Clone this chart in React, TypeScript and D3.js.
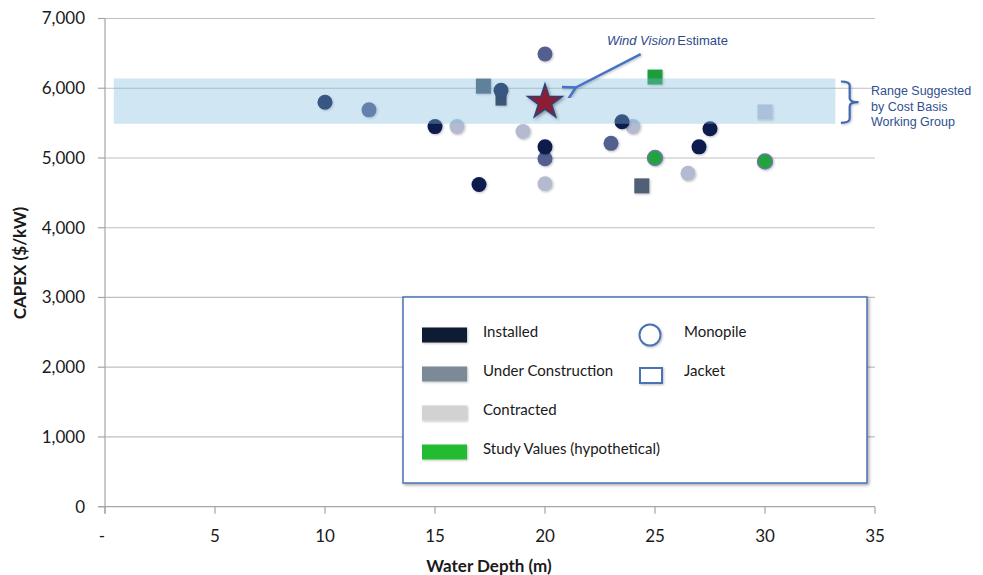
import React from "react";
import * as d3 from "d3";

// ---------- data ----------
const xTicks = [0, 5, 10, 15, 20, 25, 30, 35];
const yTicks = [0, 1000, 2000, 3000, 4000, 5000, 6000, 7000];

// [water depth (m), CAPEX ($/kW)]
const installedMonopile = [[10, 5800], [15, 5450], [17, 4620], [18, 5970], [20, 5160], [23.5, 5520], [27, 5160], [27.5, 5420]];
const constructionMonopile = [[12, 5690], [20, 6490], [20, 4990], [23, 5210]];
const contractedMonopile = [[16, 5450], [19, 5380], [20, 4630], [24, 5450], [26.5, 4780]];
const studyMonopile = [[25, 5000], [30, 4950]];
const installedJacket = [[18, 5830]];
const constructionJacket = [[17.2, 6030], [24.4, 4600]];
const contractedJacket = [[30, 5660]];
const studyJacket = [[25, 6160]];
const windVisionEstimate = [[20, 5800]];

const rangeDepth = [0.4, 33.2];
const rangeCapex = [5490, 6140];

const statusLabels = ["Installed", "Under Construction", "Contracted", "Study Values (hypothetical)"];
const foundationLabels = ["Monopile", "Jacket"];
const rangeLabel = ["Range Suggested", "by Cost Basis", "Working Group"];

// ---------- styles ----------
const W = 983, H = 575;
const x = d3.scaleLinear().domain([0, 35]).range([105, 875]);
const y = d3.scaleLinear().domain([0, 7000]).range([506.7, 18.5]);

const FONT = "Lato, 'Open Sans', sans-serif";
const ANNO_FONT = "'Liberation Sans', Arial, sans-serif";
const swatchColors = ["#0f1b33", "#7b8a98", "#d2d2d2", "#22bb33"];

const circleSeries = [
  { data: constructionMonopile, fill: "#52618f", stroke: "none" },
  { data: contractedMonopile, fill: "#b4bbd0", stroke: "none" },
  { data: installedMonopile, fill: "#0c1a4d", stroke: "none" },
  { data: studyMonopile, fill: "#22a33a", stroke: "#6a7aa6" },
];
const squareSeries = [
  { data: installedJacket, fill: "#131b37", size: 11 },
  { data: constructionJacket, fill: "#4f5e76", size: 15 },
  { data: contractedJacket, fill: "#c2c5d8", size: 15 },
  { data: studyJacket, fill: "#1e9e3e", size: 15 },
];

const fmtY = d3.format(",");
const fmtX = (d: number) => (d === 0 ? "-" : String(d));

function bracketPath(x0: number, x1: number, y0: number, y1: number) {
  const ym = (y0 + y1) / 2;
  const xm = (x0 + x1) / 2;
  const r = 4;
  return [
    `M${x0},${y0}`,
    `Q${xm},${y0} ${xm},${y0 + r}`,
    `L${xm},${ym - r}`,
    `Q${xm},${ym} ${x1},${ym}`,
    `Q${xm},${ym} ${xm},${ym + r}`,
    `L${xm},${y1 - r}`,
    `Q${xm},${y1} ${x0},${y1}`,
  ].join(" ");
}

export default function App() {
  const star = d3.symbol(d3.symbolStar, 370)();
  const legendX = 403, legendY = 297, legendW = 464, legendH = 186;
  const rowY = [335, 374, 413, 452];

  return (
    <svg
      width={W}
      height={H}
      viewBox={`0 0 ${W} ${H}`}
      style={{ position: "absolute", left: 0, top: 0, background: "#fff" }}
    >
      <defs>
        <filter id="shadow" x="-20%" y="-20%" width="150%" height="150%">
          <feDropShadow dx="1.5" dy="1.5" stdDeviation="1.5" floodColor="#000" floodOpacity="0.35" />
        </filter>
        <filter id="softshadow" x="-20%" y="-20%" width="150%" height="150%">
          <feDropShadow dx="1" dy="1" stdDeviation="1" floodColor="#000" floodOpacity="0.25" />
        </filter>
        <marker id="arrowhead" viewBox="0 0 10 10" refX="1.5" refY="5" markerWidth="7" markerHeight="7" orient="auto-start-reverse">
          <path d="M9,0.8 L1.5,5 L9,9.2" fill="none" stroke="#4472c4" strokeWidth="1.5" strokeLinecap="round" strokeLinejoin="round" />
        </marker>
      </defs>

      {/* gridlines */}
      {yTicks.filter((t) => t > 0).map((t) => (
        <line key={t} x1={x(0)} x2={x(35)} y1={y(t)} y2={y(t)} stroke="#bfbfbf" strokeWidth={1.2} />
      ))}

      {/* y axis */}
      <line x1={x(0)} x2={x(0)} y1={y(7000)} y2={y(0) + 7} stroke="#a6a6a6" strokeWidth={1.2} />
      {yTicks.map((t) => (
        <g key={t}>
          <line x1={x(0) - 7} x2={x(0)} y1={y(t)} y2={y(t)} stroke="#a6a6a6" strokeWidth={1.2} />
          <text x={85} y={y(t)} dy="0.35em" textAnchor="end" fontFamily={FONT} fontSize={17} fill="#1a1a1a">
            {fmtY(t)}
          </text>
        </g>
      ))}

      {/* x axis */}
      <line x1={x(0) - 7} x2={x(35)} y1={y(0)} y2={y(0)} stroke="#a6a6a6" strokeWidth={1.2} />
      {xTicks.map((t) => (
        <g key={t}>
          <line x1={x(t)} x2={x(t)} y1={y(0)} y2={y(0) + 7} stroke="#a6a6a6" strokeWidth={1.2} />
          <text x={t === 0 ? x(t) - 3 : x(t)} y={536} dy="0.35em" textAnchor="middle" fontFamily={FONT} fontSize={17} fill="#1a1a1a">
            {fmtX(t)}
          </text>
        </g>
      ))}

      {/* axis titles */}
      <text x={489} y={566} dy="0.35em" textAnchor="middle" fontFamily={FONT} fontWeight="bold" fontSize={17} fill="#1a1a1a">
        Water Depth (m)
      </text>
      <text
        transform={`translate(20,263) rotate(-90)`}
        dy="0.35em"
        textAnchor="middle"
        fontFamily={FONT}
        fontWeight="bold"
        fontSize={17}
        fill="#1a1a1a"
      >
        CAPEX ($/kW)
      </text>

      {/* jacket squares */}
      {squareSeries.map((s, i) =>
        s.data.map(([d, v], j) => (
          <rect
            key={`sq${i}-${j}`}
            x={x(d) - s.size / 2}
            y={y(v) - s.size / 2}
            width={s.size}
            height={s.size}
            fill={s.fill}
            filter="url(#softshadow)"
          />
        ))
      )}

      {/* monopile circles */}
      {circleSeries.map((s, i) =>
        s.data.map(([d, v], j) => (
          <circle
            key={`c${i}-${j}`}
            cx={x(d)}
            cy={y(v)}
            r={7.5}
            fill={s.fill}
            stroke={s.stroke}
            strokeWidth={s.stroke === "none" ? 0 : 1.5}
            filter="url(#softshadow)"
          />
        ))
      )}

      {/* cost basis range band (semi-transparent, over the markers) */}
      <rect
        x={x(rangeDepth[0])}
        y={y(rangeCapex[1])}
        width={x(rangeDepth[1]) - x(rangeDepth[0])}
        height={y(rangeCapex[0]) - y(rangeCapex[1])}
        fill="rgb(128,187,222)"
        fillOpacity={0.37}
      />

      {/* Wind Vision estimate star */}
      {windVisionEstimate.map(([d, v], i) => (
        <path
          key={`st${i}`}
          d={star || ""}
          transform={`translate(${x(d)},${y(v)})`}
          fill="#8e1f30"
          stroke="#2b4275"
          strokeWidth={1.5}
          strokeLinejoin="miter"
          filter="url(#shadow)"
        />
      ))}

      {/* bracket + label */}
      <path
        d={bracketPath(x(33.45), x(34.25), y(rangeCapex[1]) + 3, y(rangeCapex[0]) - 1)}
        fill="none"
        stroke="#4169b4"
        strokeWidth={2.2}
        filter="url(#softshadow)"
      />
      {rangeLabel.map((t, i) => (
        <text key={t} x={871} y={91 + i * 15.5} dy="0.35em" fontFamily={ANNO_FONT} fontSize={12.5} fill="#2f4f8f">
          {t}
        </text>
      ))}

      {/* Wind Vision annotation */}
      <text x={607} y={40} dy="0.35em" fontFamily={ANNO_FONT} fontSize={13} fill="#2f4a8a">
        <tspan fontStyle="italic">Wind Vision</tspan>
        <tspan dx={2}>Estimate</tspan>
      </text>
      <line
        x1={x(24.35)}
        y1={y(6490)}
        x2={x(21.4)}
        y2={y(6010)}
        stroke="#4472c4"
        strokeWidth={2.4}
        markerEnd="url(#arrowhead)"
        filter="url(#softshadow)"
      />

      {/* legend */}
      <rect
        x={legendX}
        y={legendY}
        width={legendW}
        height={legendH}
        fill="#fff"
        stroke="#4a72b8"
        strokeWidth={1.5}
        filter="url(#shadow)"
      />
      {statusLabels.map((lab, i) => (
        <g key={lab}>
          <rect x={422} y={rowY[i] - 7.5} width={45} height={15} fill={swatchColors[i]} filter="url(#softshadow)" />
          <text x={483} y={rowY[i] - 3} dy="0.35em" fontFamily={FONT} fontSize={15} fill="#1a1a1a">
            {lab}
          </text>
        </g>
      ))}
      <circle cx={650} cy={335} r={10.5} fill="#fff" stroke="#4a72b8" strokeWidth={2} filter="url(#softshadow)" />
      <rect x={640} y={368} width={22} height={15} fill="#fff" stroke="#4a72b8" strokeWidth={2} filter="url(#softshadow)" />
      {foundationLabels.map((lab, i) => (
        <text key={lab} x={684} y={rowY[i] - 3} dy="0.35em" fontFamily={FONT} fontSize={15} fill="#1a1a1a">
          {lab}
        </text>
      ))}
    </svg>
  );
}
